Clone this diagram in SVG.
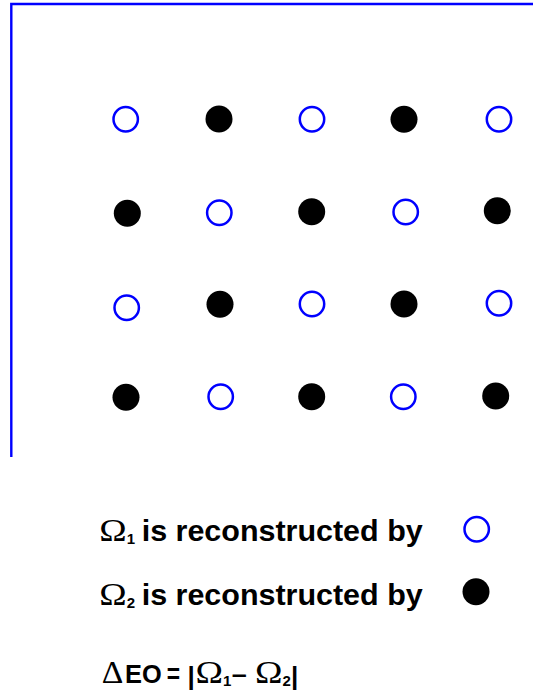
<svg xmlns="http://www.w3.org/2000/svg" width="533" height="690" viewBox="0 0 533 690">
<style>
.o{fill:#fff;stroke:#0000ff;stroke-width:2.5}
.f{fill:#000}
.frame{fill:none;stroke:#0000ff;stroke-width:2.4}
.sym{font-family:"Liberation Serif","DejaVu Serif",serif;fill:#000}
.b{font-family:"Liberation Sans",Arial,sans-serif;font-weight:bold;fill:#000}
</style>
<rect width="533" height="690" fill="#fff"/>
<g id="frame"><path class="frame" d="M11.3,457 V4 H533"/></g>
<g id="grid">
<circle class="o" cx="125.7" cy="119.3" r="12.2"/>
<circle class="f" cx="219" cy="119" r="13.5"/>
<circle class="o" cx="312" cy="119.3" r="12.2"/>
<circle class="f" cx="404" cy="119.3" r="13.5"/>
<circle class="o" cx="499" cy="119.3" r="12.2"/>
<circle class="f" cx="127.3" cy="213.3" r="13.5"/>
<circle class="o" cx="219.3" cy="212.7" r="12.2"/>
<circle class="f" cx="311.7" cy="211.7" r="13.5"/>
<circle class="o" cx="405.7" cy="212" r="12.2"/>
<circle class="f" cx="497.3" cy="210.7" r="13.5"/>
<circle class="o" cx="126.7" cy="307.7" r="12.2"/>
<circle class="f" cx="220" cy="304.3" r="13.5"/>
<circle class="o" cx="312" cy="304" r="12.2"/>
<circle class="f" cx="404" cy="304" r="13.5"/>
<circle class="o" cx="499" cy="303.3" r="12.2"/>
<circle class="f" cx="126" cy="397.3" r="13.5"/>
<circle class="o" cx="220.7" cy="396.7" r="12.2"/>
<circle class="f" cx="311.7" cy="396.7" r="13.5"/>
<circle class="o" cx="403.3" cy="396.7" r="12.2"/>
<circle class="f" cx="495.7" cy="396" r="13.5"/>
</g>
<g id="legend1">
<text class="sym" x="99.3" y="540.5" font-size="32" textLength="27.4" lengthAdjust="spacingAndGlyphs">Ω</text>
<text class="b" x="126.8" y="543.5" font-size="15">1</text>
<text class="b" x="141.7" y="540.5" font-size="30" textLength="281" lengthAdjust="spacingAndGlyphs">is reconstructed by</text>
<circle class="o" cx="476.7" cy="529.3" r="12.2"/>
</g>
<g id="legend2">
<text class="sym" x="99.3" y="605" font-size="32" textLength="27.4" lengthAdjust="spacingAndGlyphs">Ω</text>
<text class="b" x="126.8" y="608" font-size="15">2</text>
<text class="b" x="141.7" y="605" font-size="30" textLength="281" lengthAdjust="spacingAndGlyphs">is reconstructed by</text>
<circle class="f" cx="476" cy="591.7" r="13.5"/>
</g>
<g id="formula">
<text class="sym" x="101.7" y="683.3" font-size="31" textLength="21.6" lengthAdjust="spacingAndGlyphs">Δ</text>
<text class="b" x="125" y="683.3" font-size="26" textLength="36.7" lengthAdjust="spacingAndGlyphs">EO</text>
<text class="b" x="166.7" y="683.3" font-size="28" textLength="13.3" lengthAdjust="spacingAndGlyphs">=</text>
<text class="b" x="187.5" y="685" font-size="26">|</text>
<text class="sym" x="195.5" y="683.3" font-size="32" textLength="27.5" lengthAdjust="spacingAndGlyphs">Ω</text>
<text class="b" x="223" y="686" font-size="15">1</text>
<text class="b" x="231.7" y="683.3" font-size="26" textLength="15" lengthAdjust="spacingAndGlyphs">–</text>
<text class="sym" x="255" y="683.3" font-size="32" textLength="27.5" lengthAdjust="spacingAndGlyphs">Ω</text>
<text class="b" x="282.5" y="686" font-size="15">2</text>
<text class="b" x="291" y="685" font-size="26">|</text>
</g>
</svg>
